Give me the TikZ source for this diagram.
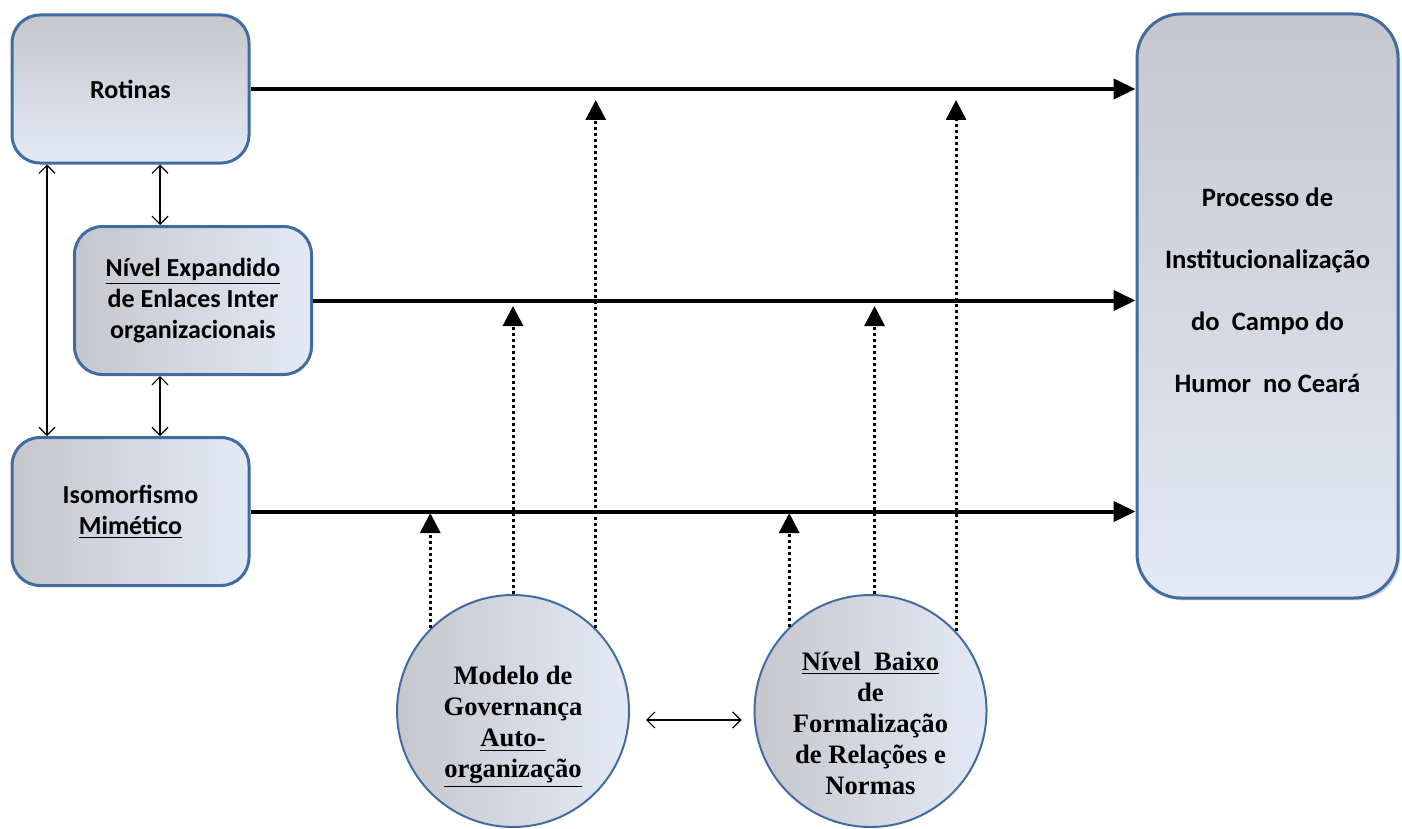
\documentclass[tikz,border=0pt]{standalone}
\usepackage{fontspec}
\setmainfont{Carlito}
\newfontfamily\timesf{Liberation Serif}
\usetikzlibrary{arrows.meta,shadows}
\definecolor{bord}{RGB}{65,108,160}
\definecolor{gA}{RGB}{198,199,204}
\definecolor{gB}{RGB}{198,212,236}
\definecolor{gC}{RGB}{228,233,246}
\begin{document}
\begin{tikzpicture}[x=0.5pt,y=-0.5pt,
  box/.style={draw=bord, line width=1.5pt, rounded corners=14pt, align=center,
    font=\bfseries\fontsize{13}{15.5}\selectfont, inner sep=0pt,
    minimum width=118.5pt, minimum height=74pt},
  hgrad/.style={left color=gA, middle color=gB, right color=gC},
  vgrad/.style={top color=gA, middle color=gB, bottom color=gC},
  circ/.style={circle, draw=bord, line width=1pt, minimum size=116pt, inner sep=0pt, hgrad},
  circtext/.style={align=center, inner sep=0pt, font=\timesf\bfseries\fontsize{13.3}{15.5}\selectfont},
  proctext/.style={align=center, inner sep=0pt, font=\bfseries\fontsize{13.3}{31}\selectfont},
  thickarr/.style={line width=2pt, -{Triangle[length=11pt,width=10pt]}},
  dotarr/.style={line width=1.5pt, dash pattern=on 1.5pt off 1.5pt, -{Triangle[length=10pt,width=10pt]}},
  thinarr/.style={line width=0.6pt, {Straight Barb[length=4pt,width=8pt]}-{Straight Barb[length=4pt,width=8pt]}}
]
\useasboundingbox (0,0) rectangle (1402,829);

\node[box, vgrad] (rot) at (130.5,89) {Rotinas};
\node[box, hgrad] (niv) at (193,300.5) {\underline{Nível Expandido}\\de Enlaces Inter\\organizacionais};
\node[box, hgrad] (iso) at (130.5,511.5) {Isomorfismo\\\underline{Mimético}};
\node[box, vgrad, minimum width=130.5pt, minimum height=292pt, rounded corners=22pt,
      drop shadow={opacity=0.35, shadow xshift=1.2pt, shadow yshift=-1.2pt}] (proc) at (1267.5,306) {};
\node[proctext] (proct) at (1267.5,290)
  {Processo de\\Institucionalização\\do\ \ Campo do\\Humor\ \ no Ceará};

\node[circ] (c1) at (513,711) {};
\node[circtext] (c1t) at (513,727) {Modelo de\\Governança\\\underline{Auto-}\\\underline{organização}};
\node[circ] (c2) at (870.5,711) {};
\node[circtext] (c2t) at (870.5,723) {\underline{Nível\ \ Baixo}\\de\\Formalização\\de Relações e\\Normas};

\coordinate (xa) at (47,0);
\coordinate (xb) at (160,0);
\coordinate (tipT) at (0,100);
\coordinate (tipM) at (0,306);
\coordinate (tipB) at (0,513);

% thick arrows to the process box
\draw[thickarr] (rot.east) -- (rot.east -| proc.west);
\draw[thickarr] (niv.east) -- (niv.east -| proc.west);
\draw[thickarr] (iso.east) -- (iso.east -| proc.west);

% thin double arrows between left boxes
\draw[thinarr] (rot.south -| xa) -- (iso.north -| xa);
\draw[thinarr] (rot.south -| xb) -- (niv.north -| xb);
\draw[thinarr] (niv.south -| xb) -- (iso.north -| xb);

% dotted arrows from circles
\draw[dotarr] (c1.135) -- (c1.135 |- tipB);
\draw[dotarr] (c1.90) -- (c1.90 |- tipM);
\draw[dotarr] (c1.45) -- (c1.45 |- tipT);
\draw[dotarr] (c2.134) -- (c2.134 |- tipB);
\draw[dotarr] (c2.88) -- (c2.88 |- tipM);
\draw[dotarr] (c2.43) -- (c2.43 |- tipT);

% double arrow between circles
\draw[thinarr, shorten <=8pt, shorten >=6pt] ([yshift=-4.5pt]c1.east) -- ([yshift=-4.5pt]c2.west);
\end{tikzpicture}
\end{document}
